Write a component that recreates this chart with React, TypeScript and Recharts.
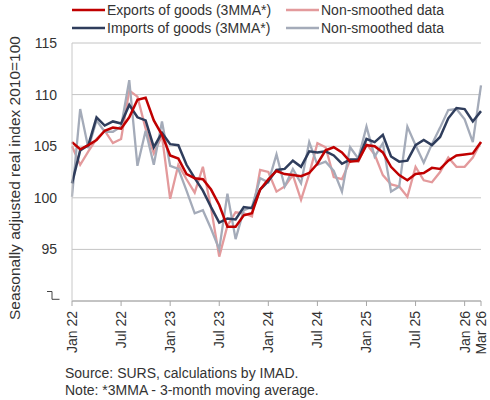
import React from "react";
import { LineChart, Line, XAxis, YAxis, CartesianGrid } from "recharts";

// monthly, Jan 2022 - Mar 2026
const months = [
	"Jan 22", "Feb 22", "Mar 22", "Apr 22", "May 22", "Jun 22", "Jul 22", "Aug 22", "Sep 22", "Oct 22", "Nov 22", "Dec 22",
	"Jan 23", "Feb 23", "Mar 23", "Apr 23", "May 23", "Jun 23", "Jul 23", "Aug 23", "Sep 23", "Oct 23", "Nov 23", "Dec 23",
	"Jan 24", "Feb 24", "Mar 24", "Apr 24", "May 24", "Jun 24", "Jul 24", "Aug 24", "Sep 24", "Oct 24", "Nov 24", "Dec 24",
	"Jan 25", "Feb 25", "Mar 25", "Apr 25", "May 25", "Jun 25", "Jul 25", "Aug 25", "Sep 25", "Oct 25", "Nov 25", "Dec 25",
	"Jan 26", "Feb 26", "Mar 26"
];

const exports3mma = [
	105.4, 104.7, 105.1, 105.6, 106.5, 106.8, 106.7, 107.8, 109.5, 109.7, 107.5, 106.1,
	104.1, 103.8, 102.3, 101.9, 101.8, 100.8, 99.3, 97.2, 97.2, 98.3, 98.5, 100.8,
	101.8, 102.6, 102.3, 102.2, 102.1, 102.4, 103.3, 104.6, 104.9, 104.4, 103.5, 103.6,
	105.1, 105.0, 104.4, 103.0, 102.2, 101.7, 102.3, 102.4, 102.9, 102.8, 103.6, 104.1,
	104.2, 104.3, 105.4
];

const exportsRaw = [
	105.0, 103.2, 104.5, 105.7, 106.5, 105.3, 105.7, 110.4, 109.8, 106.7, 104.3, 106.0,
	99.9, 103.2, 101.8, 100.5, 103.0, 99.0, 94.3, 97.3, 98.6, 98.5, 98.2, 102.7,
	102.5, 100.6, 101.1, 102.2, 99.8, 102.3, 105.3, 104.9, 102.0, 101.8, 103.6, 103.5,
	105.2, 104.2, 102.2, 101.3, 101.1, 100.1, 103.0, 101.7, 101.5, 102.5, 103.9, 103.0,
	103.0, 103.9, 105.4
];

const imports3mma = [
	101.4, 104.6, 105.1, 107.8, 107.0, 107.4, 107.2, 109.0, 107.8, 107.5, 104.9, 106.3,
	105.2, 105.1, 103.2, 101.9, 100.7, 99.1, 97.6, 98.0, 97.9, 99.1, 99.0, 100.8,
	101.6, 102.7, 102.8, 103.6, 103.0, 104.5, 104.4, 104.5, 104.1, 103.3, 103.7, 103.7,
	105.7, 105.4, 106.1, 104.0, 103.5, 103.6, 105.1, 105.6, 105.1, 105.9, 107.7, 108.7,
	108.6, 107.4, 108.4
];

const importsRaw = [
	100.1, 108.6, 104.8, 107.5, 106.4, 106.4, 106.9, 111.4, 103.1, 106.5, 103.2, 107.4,
	103.1, 102.8, 100.7, 98.5, 98.8, 97.0, 95.0, 100.4, 96.0, 98.8, 99.1, 101.9,
	101.5, 104.2, 101.1, 102.8, 101.4, 105.4, 103.2, 103.5, 102.6, 100.6, 104.9, 103.8,
	106.9, 104.0, 105.3, 100.6, 101.1, 106.9, 105.1, 103.4, 105.2, 106.8, 108.5, 108.6,
	107.6, 105.4, 110.9
];

const xTicks = ["Jan 22", "Jul 22", "Jan 23", "Jul 23", "Jan 24", "Jul 24", "Jan 25", "Jul 25", "Jan 26", "Mar 26"];
const yTicks = [90, 95, 100, 105, 110, 115];

const RED = "#c00000";
const PINK = "#e39a9c";
const NAVY = "#2f3d5c";
const GREY = "#a4abb9";
const FONT = "'Liberation Sans', Arial, sans-serif";

const data = months.map((m, i) => ({
	month: m,
	exp: exports3mma[i],
	expRaw: exportsRaw[i],
	imp: imports3mma[i],
	impRaw: importsRaw[i]
}));

const XTick = ({ x, y, payload }: any) => (
	<text
		x={x}
		y={y}
		transform={`rotate(-90 ${x} ${y})`}
		textAnchor="end"
		dy="0.35em"
		fontSize={14}
		fontFamily={FONT}
		fill="#333"
	>
		{payload.value}
	</text>
);

const YTick = ({ x, y, payload }: any) => {
	if (payload.value === 90) {
		// axis break mark
		return (
			<path
				d={`M${x - 10},${y - 9.5} H${x - 5} V${y - 1.7} H${x + 2.5}`}
				fill="none"
				stroke="#444"
				strokeWidth={1}
			/>
		);
	}
	return (
		<text x={x} y={y} textAnchor="end" dy="0.35em" fontSize={14} fontFamily={FONT} fill="#333">
			{payload.value}
		</text>
	);
};

const legendRows = [
	{ y: 10, items: [{ c: RED, t: "Exports of goods (3MMA*)" }, { c: PINK, t: "Non-smoothed data" }] },
	{ y: 28, items: [{ c: NAVY, t: "Imports of goods (3MMA*)" }, { c: GREY, t: "Non-smoothed data" }] }
];
const legendCols = [72, 286];

export default function App() {
	return (
		<div style={{ position: "absolute", left: 0, top: 0, width: 490, height: 400, background: "#fff" }}>
			<LineChart width={490} height={400} data={data} margin={{ top: 43, right: 9, bottom: 39, left: 0 }}>
				<CartesianGrid vertical={false} stroke="#c4c4c4" strokeWidth={1} />
				<XAxis
					dataKey="month"
					ticks={xTicks}
					interval={0}
					height={60}
					tickSize={5}
					tickMargin={5}
					tick={<XTick />}
					axisLine={{ stroke: "#a6a6a6" }}
					tickLine={{ stroke: "#a6a6a6" }}
				/>
				<YAxis
					domain={[90, 115]}
					ticks={yTicks}
					interval={0}
					width={72}
					tickSize={6}
					tickMargin={9}
					tickLine={false}
					tick={<YTick />}
					axisLine={{ stroke: "#c8c8c8" }}
				/>
				<YAxis
					yAxisId="right"
					orientation="right"
					domain={[90, 115]}
					width={0}
					tick={false}
					tickLine={false}
					axisLine={{ stroke: "#c8c8c8" }}
				/>
				<Line dataKey="expRaw" stroke={PINK} strokeWidth={2.3} dot={false} isAnimationActive={false} />
				<Line dataKey="impRaw" stroke={GREY} strokeWidth={2.3} dot={false} isAnimationActive={false} />
				<Line dataKey="imp" stroke={NAVY} strokeWidth={2.5} dot={false} isAnimationActive={false} />
				<Line dataKey="exp" stroke={RED} strokeWidth={2.5} dot={false} isAnimationActive={false} />
			</LineChart>
			<svg
				width={490}
				height={400}
				style={{ position: "absolute", left: 0, top: 0, pointerEvents: "none" }}
				fontFamily={FONT}
				fontSize={14}
				fill="#333"
			>
				{legendRows.map((row) =>
					row.items.map((it, j) => (
						<g key={row.y + "-" + j}>
							<line x1={legendCols[j]} x2={legendCols[j] + 33} y1={row.y} y2={row.y} stroke={it.c} strokeWidth={2.5} />
							<text x={legendCols[j] + 35} y={row.y} dy="0.35em">
								{it.t}
							</text>
						</g>
					))
				)}
				<text transform="translate(15 178) rotate(-90)" textAnchor="middle" dy="0.35em" fontSize={15.5}>
					Seasonally adjusted real index 2010=100
				</text>
				<text x={65} y={373} dy="0.35em">Source: SURS, calculations by IMAD.</text>
				<text x={65} y={390} dy="0.35em">Note: *3MMA - 3-month moving average.</text>
			</svg>
		</div>
	);
}
